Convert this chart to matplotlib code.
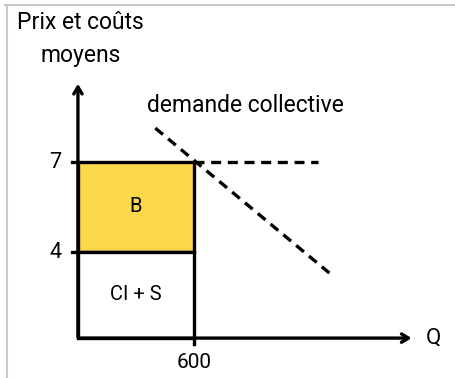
import matplotlib.pyplot as plt
from matplotlib.patches import Rectangle

# Données du schéma
quantite = 600
prix = 7
cout_moyen = 4
demande_q = [400, 1300]
demande_p = [8.13, 3.3]
prix_ligne_q = [600, 1240]
y_ticks = [7, 4]
y_labels = ['7', '4']
x_ticks = [600]
x_labels = ['600']

plt.rcParams['font.family'] = ['Roboto', 'DejaVu Sans']

fig = plt.figure(figsize=(4.56, 3.78), dpi=100)
ax = fig.add_axes([0, 0, 1, 1])
ax.set_xlim(-403, 1955)
ax.set_ylim(-0.2, 12.4)
ax.axis('off')

# cadre gris léger
fig.add_artist(plt.Line2D([0.012, 1], [0.987, 0.987], color='#c8c8c8', lw=1.5))
fig.add_artist(plt.Line2D([0.015, 0.015], [0, 0.987], color='#c8c8c8', lw=1.5))

base = 1.13
lw = 2.4

# rectangles
ax.add_patch(Rectangle((0, cout_moyen), quantite, prix - cout_moyen,
                       facecolor='#fad84a', edgecolor='black', lw=lw, zorder=2))
ax.add_patch(Rectangle((0, base), quantite, cout_moyen - base,
                       facecolor='white', edgecolor='black', lw=lw, zorder=2))

# axes fléchés
ax.annotate('', xy=(0, 9.7), xytext=(0, base - 0.05),
            arrowprops=dict(arrowstyle='->,head_length=0.5,head_width=0.3', lw=lw, color='black'), zorder=3)
ax.annotate('', xy=(1740, base), xytext=(-12, base),
            arrowprops=dict(arrowstyle='->,head_length=0.5,head_width=0.3', lw=lw, color='black'), zorder=3)

# courbes en pointillés
ax.plot(demande_q, demande_p, ls=(0, (3, 2)), color='black', lw=lw, zorder=4)
ax.plot(prix_ligne_q, [prix, prix], ls=(0, (3, 2)), color='black', lw=lw, zorder=4)

# graduations
for v, lab in zip(y_ticks, y_labels):
    ax.plot([-30, 0], [v, v], color='black', lw=lw, zorder=3)
    ax.text(-85, v, lab, ha='right', va='center', fontsize=15.5)
for v, lab in zip(x_ticks, x_labels):
    ax.plot([v, v], [base, base - 0.2], color='black', lw=lw, zorder=3)
    ax.text(v, base - 0.82, lab, ha='center', va='center', fontsize=15)

# textes
ax.text(-315, 11.65, 'Prix et coûts', ha='left', va='center', fontsize=16.5)
ax.text(15, 10.55, 'moyens', ha='center', va='center', fontsize=16.5)
ax.text(864, 8.9, 'demande collective', ha='center', va='center', fontsize=16.5)
ax.text(300, 5.5, 'B', ha='center', va='center', fontsize=14.5)
ax.text(300, 2.6, 'CI + S', ha='center', va='center', fontsize=14.5)
ax.text(1840, base, 'Q', ha='center', va='center', fontsize=16)

fig.savefig('out.png', dpi=100)
